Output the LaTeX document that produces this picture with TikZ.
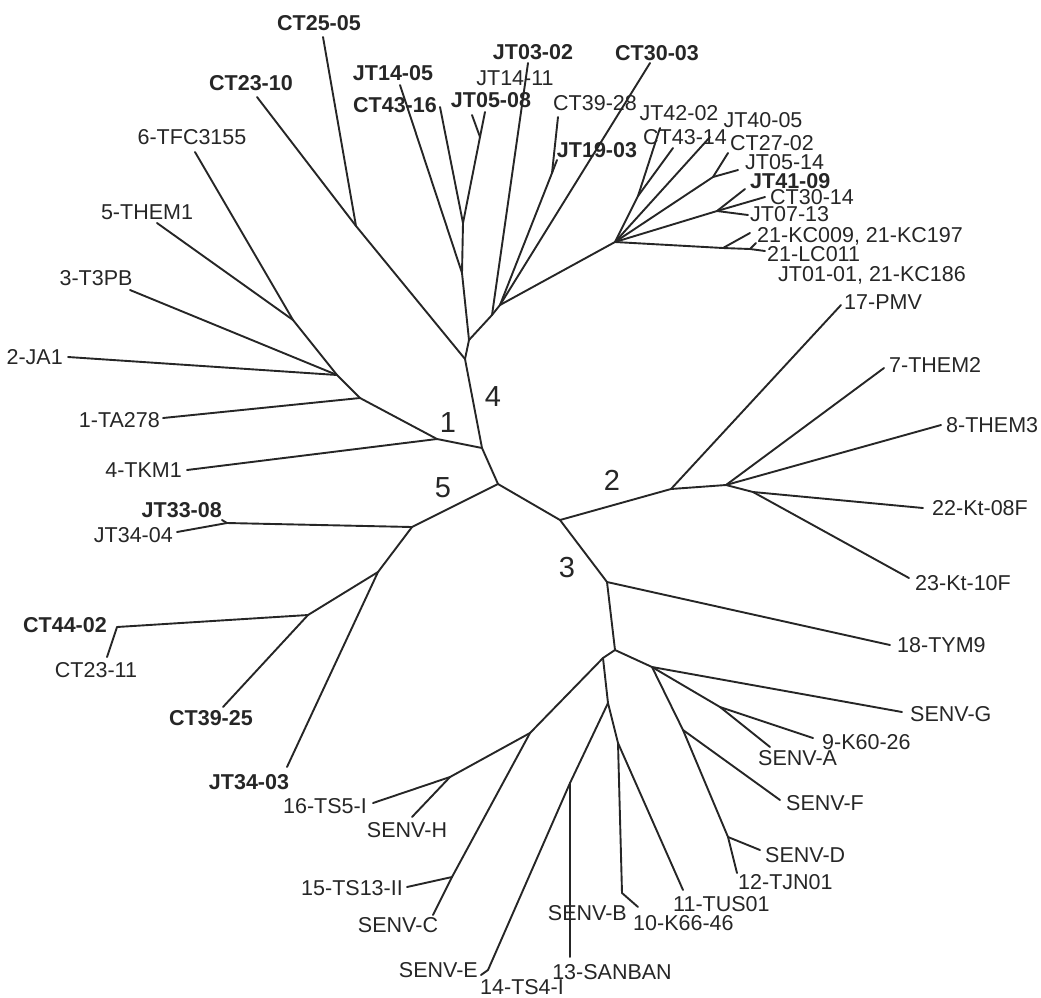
\documentclass[tikz,border=0pt]{standalone}
\usepackage{fontspec}
\setmainfont{Liberation Sans}
\begin{document}
\begin{tikzpicture}[x=1pt,y=-1pt,
  branch/.style={line width=1.9pt, draw=black!85, line cap=round, line join=round},
  leaf/.style={inner sep=0pt, text height=15.4pt, text depth=0pt, text=black!85,
    font=\fontsize{21.5}{24}\selectfont},
  strain/.style={leaf, font=\fontsize{21.5}{24}\selectfont\bfseries},
  clade/.style={inner sep=0pt, text=black!85, font=\fontsize{29}{32}\selectfont}]
\useasboundingbox (0,0) rectangle (1041,997);

% ---- central junctions
\coordinate (c0) at (498,484);
\coordinate (n14) at (482,448);
\coordinate (n23) at (560,520);
\coordinate (n5a) at (412,527);

% ---- group 1
\coordinate (a1) at (437,439);
\coordinate (a2) at (360,398);
\coordinate (a3) at (337,375);
\coordinate (a4) at (293,320);
\coordinate (tTKM) at (187,470);
\coordinate (tTA) at (163,418);
\coordinate (tJA) at (68,357);
\coordinate (tT3) at (130,290);
\coordinate (tTHEM1) at (157,223);
\coordinate (tTFC) at (195,152);

% ---- group 4
\coordinate (k1) at (465,359);
\coordinate (k2) at (469,340);
\coordinate (k3) at (462,273);
\coordinate (k4) at (356,226);
\coordinate (k5) at (463,223);
\coordinate (k6) at (480,137);
\coordinate (tCTa) at (257,97);
\coordinate (tCTb) at (323,37);
\coordinate (tJTa) at (400,85);
\coordinate (tCTc) at (440,107);
\coordinate (tJTb) at (472,115);
\coordinate (tJTc) at (485,112);
\coordinate (b1) at (492,315);
\coordinate (b2) at (500,305);
\coordinate (f) at (552,173);
\coordinate (tJTd) at (528,63);
\coordinate (tCTd) at (558,117);
\coordinate (tJTe) at (557,160);
\coordinate (tCTe) at (650,63);
\coordinate (g) at (615,242);
\coordinate (ga) at (638,196);
\coordinate (gb) at (713,177);
\coordinate (gc) at (717,211);
\coordinate (gd) at (723,248);
\coordinate (ge) at (750,249);
\coordinate (tJTf) at (660,128);
\coordinate (tCTf) at (673,148);
\coordinate (tJTg) at (710,137);
\coordinate (tCTg) at (728,153);
\coordinate (tJTh) at (738,170);
\coordinate (tJTi) at (745,189);
\coordinate (tCTh) at (765,197);
\coordinate (tJTj) at (748,215);
\coordinate (tKCa) at (750,233);
\coordinate (tLC) at (765,251);
\coordinate (tKCb) at (756,243);

% ---- group 2
\coordinate (m1) at (671,489);
\coordinate (m2) at (726,485);
\coordinate (m3) at (753,492);
\coordinate (tPMV) at (841,305);
\coordinate (tTHEM2) at (884,368);
\coordinate (tTHEM3) at (941,425);
\coordinate (tKta) at (923,508);
\coordinate (tKtb) at (909,578);

% ---- group 3
\coordinate (p1) at (607,582);
\coordinate (p2) at (615,650);
\coordinate (p3) at (652,667);
\coordinate (p4) at (720,707);
\coordinate (p5) at (683,730);
\coordinate (p6) at (728,837);
\coordinate (p7) at (603,658);
\coordinate (p8) at (530,733);
\coordinate (p9) at (450,777);
\coordinate (p10) at (452,877);
\coordinate (p11) at (608,703);
\coordinate (p12) at (570,783);
\coordinate (p13) at (618,743);
\coordinate (p14) at (622,893);
\coordinate (tTYM) at (890,645);
\coordinate (tSG) at (902,712);
\coordinate (tK60) at (813,738);
\coordinate (tSA) at (770,747);
\coordinate (tSF) at (780,800);
\coordinate (tSD) at (760,850);
\coordinate (tTJN) at (737,873);
\coordinate (tTS5) at (373,803);
\coordinate (tSH) at (412,817);
\coordinate (tTS13) at (407,887);
\coordinate (tSC) at (433,915);
\coordinate (tSAN) at (570,957);
\coordinate (tTS4) at (488,970);
\coordinate (tSE) at (481,975);
\coordinate (tK66) at (638,907);
\coordinate (tTUS) at (683,890);

% ---- group 5
\coordinate (q1) at (227,523);
\coordinate (q2) at (378,572);
\coordinate (q3) at (308,615);
\coordinate (q4) at (117,627);
\coordinate (tJTk) at (222,520);
\coordinate (tJTl) at (177,532);
\coordinate (tCTi) at (107,657);
\coordinate (tCTj) at (223,707);
\coordinate (tJTm) at (287,767);

% ---- branches
\foreach \u/\v in {c0/n14, c0/n23, c0/n5a,
  n14/a1, a1/tTKM, a1/a2, a2/tTA, a2/a3, a3/tJA, a3/tT3, a3/a4, a4/tTHEM1, a4/tTFC,
  n14/k1, k1/k2, k2/k3, k1/k4, k4/tCTa, k4/tCTb, k3/tJTa, k3/k5, k5/tCTc, k5/k6,
  k6/tJTb, k6/tJTc, k2/b1, b1/tJTd, b1/b2, b2/f, f/tCTd, f/tJTe, b2/tCTe, b2/g,
  g/ga, ga/tJTf, ga/tCTf, g/tJTg, g/gb, gb/tCTg, gb/tJTh, g/gc, gc/tJTi, gc/tCTh,
  gc/tJTj, g/gd, gd/tKCa, gd/ge, ge/tLC, ge/tKCb,
  n23/m1, m1/tPMV, m1/m2, m2/tTHEM2, m2/tTHEM3, m2/m3, m3/tKta, m3/tKtb,
  n23/p1, p1/tTYM, p1/p2, p2/p3, p3/tSG, p3/p4, p4/tK60, p4/tSA, p3/p5, p5/tSF,
  p5/p6, p6/tSD, p6/tTJN, p2/p7, p7/p8, p8/p9, p9/tTS5, p9/tSH, p8/p10, p10/tTS13,
  p10/tSC, p7/p11, p11/p12, p12/tSAN, p12/tTS4, tTS4/tSE, p11/p13, p13/p14,
  p14/tK66, p13/tTUS,
  n5a/q1, q1/tJTk, q1/tJTl, n5a/q2, q2/q3, q3/q4, q4/tCTi, q3/tCTj, q2/tJTm}
  \draw[branch] (\u) -- (\v);

% ---- group numbers
\node[clade] (g1) at (448,423) {1};
\node[clade] (g4) at (493,397) {4};
\node[clade] (g5) at (443,488) {5};
\node[clade] (g2) at (612,480) {2};
\node[clade] (g3) at (567,568) {3};

% ---- labels, group 1
\node[leaf] (lTFC) at (192,137) {6-TFC3155};
\node[leaf] (lTHEM1) at (147,212) {5-THEM1};
\node[leaf] (lT3) at (96,278) {3-T3PB};
\node[leaf, anchor=east] (lJA) at (63,357) {2-JA1};
\node[leaf, anchor=east] (lTA) at (160,420) {1-TA278};
\node[leaf, anchor=east] (lTKM) at (182,470) {4-TKM1};

% ---- labels, group 4
\node[strain] (lCTb) at (319,23) {CT25-05};
\node[strain] (lCTa) at (251,83) {CT23-10};
\node[strain] (lJTa) at (393,73) {JT14-05};
\node[strain] (lCTc) at (395,105) {CT43-16};
\node[strain] (lJTb) at (491,100) {JT05-08};
\node[strain] (lJTd) at (533,52) {JT03-02};
\node[leaf] (lJTn) at (515,78) {JT14-11};
\node[leaf] (lCTd) at (595,103) {CT39-28};
\node[strain] (lCTe) at (657,53) {CT30-03};
\node[strain] (lJTe) at (597,150) {JT19-03};
\node[leaf] (lJTf) at (679,113) {JT42-02};
\node[leaf] (lCTf) at (685,137) {CT43-14};
\node[leaf] (lJTg) at (763,120) {JT40-05};
\node[leaf, anchor=west] (lCTg) at (730,143) {CT27-02};
\node[leaf, anchor=west] (lJTh) at (745,162) {JT05-14};
\node[strain, anchor=west] (lJTi) at (750,181) {JT41-09};
\node[leaf, anchor=west] (lCTh) at (770,197) {CT30-14};
\node[leaf, anchor=west] (lJTj) at (750,214) {JT07-13};
\node[leaf, anchor=west] (lKCa) at (757,235) {21-KC009, 21-KC197};
\node[leaf, anchor=west] (lLC) at (767,254) {21-LC011};
\node[leaf, anchor=west] (lKCb) at (778,274) {JT01-01, 21-KC186};

% ---- labels, group 2
\node[leaf, anchor=west] (lPMV) at (844,302) {17-PMV};
\node[leaf, anchor=west] (lTHEM2) at (889,365) {7-THEM2};
\node[leaf, anchor=west] (lTHEM3) at (946,425) {8-THEM3};
\node[leaf, anchor=west] (lKta) at (932,508) {22-Kt-08F};
\node[leaf, anchor=west] (lKtb) at (915,583) {23-Kt-10F};

% ---- labels, group 3
\node[leaf, anchor=west] (lTYM) at (897,645) {18-TYM9};
\node[leaf, anchor=west] (lSG) at (910,714) {SENV-G};
\node[leaf, anchor=west] (lK60) at (822,742) {9-K60-26};
\node[leaf, anchor=west] (lSA) at (758,758) {SENV-A};
\node[leaf, anchor=west] (lSF) at (786,803) {SENV-F};
\node[leaf, anchor=west] (lSD) at (765,855) {SENV-D};
\node[leaf, anchor=west] (lTJN) at (738,882) {12-TJN01};
\node[leaf, anchor=west] (lTUS) at (673,904) {11-TUS01};
\node[leaf, anchor=west] (lK66) at (633,923) {10-K66-46};
\node[leaf, anchor=east] (lSB) at (627,913) {SENV-B};
\node[leaf] (lSAN) at (612,972) {13-SANBAN};
\node[leaf] (lTS4) at (522,987) {14-TS4-I};
\node[leaf, anchor=east] (lSE) at (478,970) {SENV-E};
\node[leaf] (lSC) at (398,925) {SENV-C};
\node[leaf, anchor=east] (lTS13) at (403,888) {15-TS13-II};
\node[leaf] (lSH) at (407,830) {SENV-H};
\node[leaf, anchor=east] (lTS5) at (367,806) {16-TS5-I};

% ---- labels, group 5
\node[strain, anchor=east] (lJTk) at (222,510) {JT33-08};
\node[leaf, anchor=east] (lJTl) at (173,535) {JT34-04};
\node[strain, anchor=east] (lCTi) at (107,625) {CT44-02};
\node[leaf] (lCTk) at (96,670) {CT23-11};
\node[strain] (lCTj) at (211,718) {CT39-25};
\node[strain] (lJTm) at (249,782) {JT34-03};
\end{tikzpicture}
\end{document}
